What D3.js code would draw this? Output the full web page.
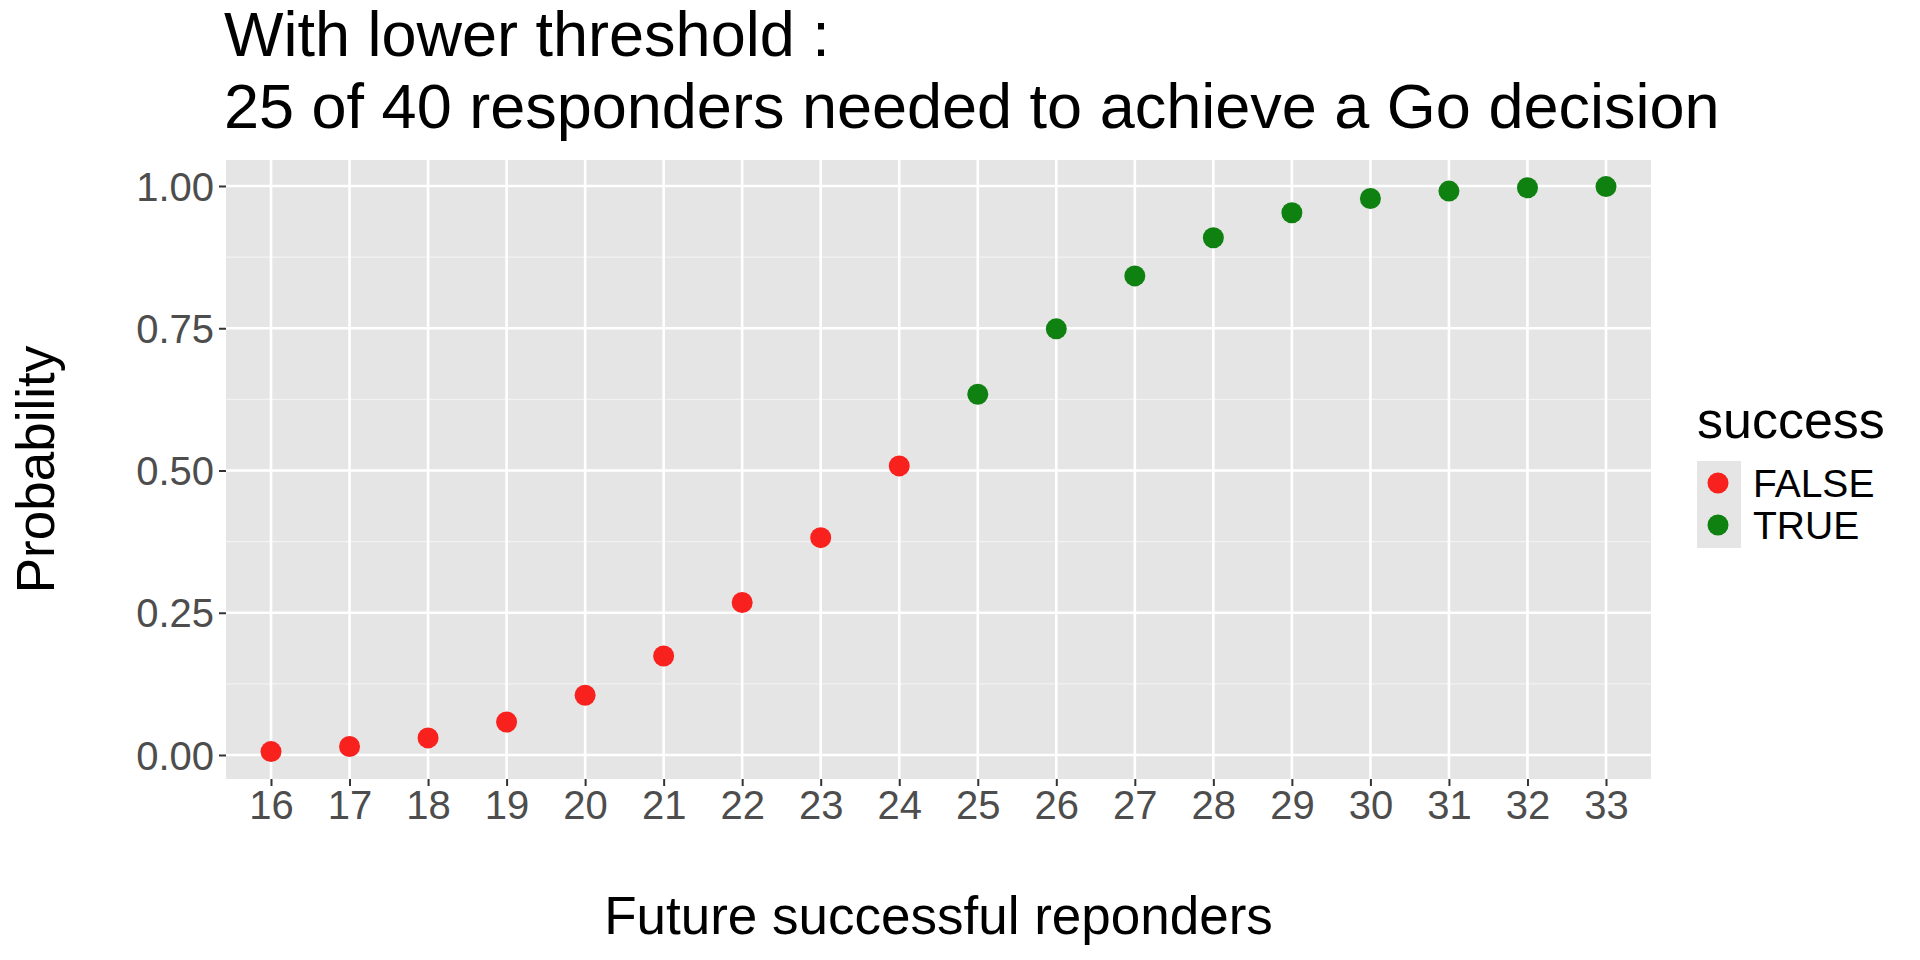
<!DOCTYPE html>
<html><head><meta charset="utf-8">
<script src="https://cdn.jsdelivr.net/npm/d3@7"></script>
<style>body{margin:0;background:#fff}text{font-family:"Liberation Sans",Arial,sans-serif}</style>
</head><body>
<svg id="chart" width="1920" height="960"></svg>
<script>
const responders = [16,17,18,19,20,21,22,23,24,25,26,27,28,29,30,31,32,33];
const probability = [0.006,0.015,0.030,0.058,0.105,0.174,0.268,0.382,0.508,0.634,0.749,0.842,0.909,0.953,0.978,0.991,0.997,0.999];
const success = [false,false,false,false,false,false,false,false,false,true,true,true,true,true,true,true,true,true];
const yTicks = [0,0.25,0.5,0.75,1];
const colors = {false: "#f8211d", true: "#0e8110"};

const svg = d3.select("#chart");
const panel = {x0: 226, x1: 1651, y0: 160, y1: 779};

const x = d3.scalePoint().domain(responders).range([271, 1606]);
const y = d3.scaleLinear().domain([0, 1]).range([755, 186]);

svg.append("rect").attr("x", panel.x0).attr("y", panel.y0)
  .attr("width", panel.x1 - panel.x0).attr("height", panel.y1 - panel.y0).attr("fill", "#e5e5e5");

// minor grid
[0.125, 0.375, 0.625, 0.875].forEach(v => {
  svg.append("line").attr("x1", panel.x0).attr("x2", panel.x1).attr("y1", y(v)).attr("y2", y(v))
    .attr("stroke", "#f2f2f2").attr("stroke-width", 1.3);
});
yTicks.forEach(v => {
  svg.append("line").attr("x1", panel.x0).attr("x2", panel.x1).attr("y1", y(v)).attr("y2", y(v))
    .attr("stroke", "#fff").attr("stroke-width", 2.6);
});
responders.forEach(r => {
  svg.append("line").attr("x1", x(r)).attr("x2", x(r)).attr("y1", panel.y0).attr("y2", panel.y1)
    .attr("stroke", "#fff").attr("stroke-width", 2.6);
});

// y axis
const yAxis = svg.append("g").attr("transform", `translate(${panel.x0},0)`)
  .call(d3.axisLeft(y).tickValues(yTicks).tickFormat(d3.format(".2f")).tickSize(7).tickPadding(5));
yAxis.select(".domain").remove();
yAxis.selectAll("line").attr("stroke", "#333").attr("stroke-width", 2);
yAxis.selectAll("text").attr("fill", "#4d4d4d").style("font-size", "40px").attr("dy", "0.35em");

// x axis
const xAxis = svg.append("g").attr("transform", `translate(0,${panel.y1})`)
  .call(d3.axisBottom(x).tickSize(7).tickPadding(5));
xAxis.select(".domain").remove();
xAxis.selectAll("line").attr("stroke", "#333").attr("stroke-width", 2);
xAxis.selectAll("text").attr("fill", "#4d4d4d").style("font-size", "40px");

svg.selectAll("circle.pt")
  .data(responders.map((r, i) => ({r, p: probability[i], s: success[i]})))
  .join("circle").attr("class", "pt")
  .attr("cx", d => x(d.r)).attr("cy", d => y(d.p)).attr("r", 10.5)
  .attr("fill", d => colors[d.s]);

// titles
svg.append("text").attr("x", 224).attr("y", 56).style("font-size", "63px").text("With lower threshold :");
svg.append("text").attr("x", 224).attr("y", 128).style("font-size", "63px").text("25 of 40 responders needed to achieve a Go decision");
svg.append("text").attr("x", (panel.x0 + panel.x1) / 2).attr("y", 934).attr("text-anchor", "middle")
  .style("font-size", "53px").text("Future successful reponders");
svg.append("text").attr("transform", `translate(54,${(panel.y0 + panel.y1) / 2}) rotate(-90)`)
  .attr("text-anchor", "middle").style("font-size", "53px").text("Probability");

// legend
svg.append("text").attr("x", 1697).attr("y", 438).style("font-size", "52px").text("success");
svg.append("rect").attr("x", 1697).attr("y", 461).attr("width", 44).attr("height", 87).attr("fill", "#e5e5e5");
[["FALSE", false], ["TRUE", true]].forEach(([lab, s], i) => {
  const cy = 483 + i * 42;
  svg.append("circle").attr("cx", 1718).attr("cy", cy).attr("r", 10.5).attr("fill", colors[s]);
  svg.append("text").attr("x", 1753).attr("y", cy).attr("dy", "0.35em").style("font-size", "39px").text(lab);
});
</script>
</body></html>
